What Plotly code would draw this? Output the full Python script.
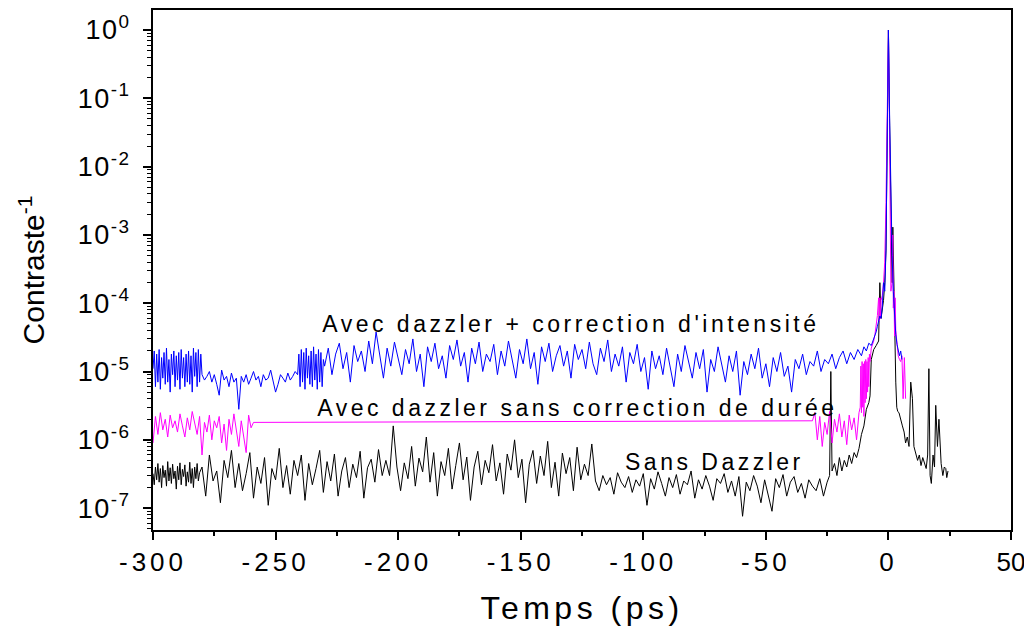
import numpy as np
import plotly.graph_objects as go

# ---------------- data ----------------
# Blue : "Avec dazzler + correction d'intensité"
blue_dense1 = [1.1e-5, 2.0e-5, 6e-6, 1.8e-5, 7e-6, 2.1e-5, 5.5e-6, 1.6e-5, 8e-6, 1.9e-5,
               6.5e-6, 2.2e-5, 7e-6, 1.5e-5, 5e-6, 1.8e-5, 9e-6, 2.0e-5, 6e-6, 1.7e-5,
               7.5e-6, 1.9e-5, 5.5e-6, 2.1e-5, 8e-6, 1.6e-5, 6e-6, 1.8e-5, 7e-6, 2.0e-5,
               6.5e-6, 1.7e-5, 5e-6, 2.2e-5, 8.5e-6, 1.9e-5, 6e-6, 2.1e-5, 7e-6, 1.8e-5]   # -300 .. -280.5, every 0.5 ps
blue_calm = [9e-6, 7.5e-6, 8.5e-6, 1.0e-5, 7e-6, 9e-6, 6.5e-6, 4.5e-6, 1.05e-5, 7.5e-6,
             8.5e-6, 6e-6, 9.5e-6, 7e-6, 8e-6, 2.8e-6, 8.5e-6, 7e-6, 9e-6, 6.5e-6,
             8e-6, 1.0e-5, 7.5e-6, 8.5e-6, 6e-6, 9e-6, 7.5e-6, 8e-6, 1.05e-5, 7e-6,
             5e-6, 6.5e-6, 9e-6, 8e-6, 7e-6, 9.5e-6, 7.5e-6, 8.5e-6, 1.0e-5, 9e-6]        # -280 .. -241, every 1 ps
blue_dense2 = [1.8e-5, 6e-6, 2.1e-5, 7e-6, 1.9e-5, 5.5e-6, 2.2e-5, 8e-6, 1.7e-5, 6.5e-6,
               2.0e-5, 6e-6, 2.3e-5, 7.5e-6, 1.8e-5, 5.5e-6, 2.1e-5, 7e-6, 1.9e-5, 6e-6, 1.5e-5]  # -240.5 .. -230.5, every 0.5 ps
blue_main = [1.2e-5, 2.2e-5, 9e-6, 1.8e-5, 2.6e-5, 1.1e-5, 1.9e-5, 7e-6, 2.4e-5, 1.4e-5,
             2.0e-5, 1.0e-5, 2.8e-5, 1.3e-5, 3.8e-5, 1.6e-5, 8e-6, 2.2e-5, 1.2e-5, 2.7e-5,
             1.5e-5, 9e-6, 2.1e-5, 1.3e-5, 3.0e-5, 1.0e-5, 1.8e-5, 6e-6, 2.3e-5, 1.4e-5,
             2.6e-5, 1.1e-5, 1.7e-5, 8e-6, 2.4e-5, 1.5e-5, 2.9e-5, 1.2e-5, 1.9e-5, 7e-6,
             2.2e-5, 1.3e-5, 2.7e-5, 1.0e-5, 1.8e-5, 1.4e-5, 2.5e-5, 9e-6, 2.0e-5, 1.2e-5,
             2.8e-5, 1.5e-5, 8e-6, 2.1e-5, 1.3e-5, 3.0e-5, 1.1e-5, 1.9e-5, 6.5e-6, 2.3e-5,
             1.4e-5, 2.6e-5, 1.0e-5, 1.7e-5, 2.4e-5, 1.2e-5, 2.0e-5, 8e-6, 2.5e-5, 1.5e-5,
             2.1e-5, 1.1e-5, 2.7e-5, 1.3e-5, 9e-6, 2.2e-5, 1.4e-5, 2.9e-5, 1.0e-5, 1.8e-5,
             1.2e-5, 2.3e-5, 7e-6, 1.9e-5, 1.3e-5, 2.5e-5, 1.0e-5, 1.6e-5, 5.5e-6, 2.0e-5,
             1.1e-5, 1.7e-5, 9e-6, 2.2e-5, 1.2e-5, 6e-6, 1.8e-5, 1.0e-5, 2.4e-5, 1.3e-5,
             8e-6, 1.9e-5, 1.1e-5, 2.1e-5, 5e-6, 1.5e-5, 1.0e-5, 2.3e-5, 1.2e-5, 7e-6,
             1.7e-5, 1.0e-5, 2.0e-5, 4.5e-6, 1.4e-5, 9e-6, 1.8e-5, 1.1e-5, 2.2e-5, 8e-6,
             1.3e-5, 6e-6, 1.6e-5, 1.0e-5, 1.9e-5, 8.5e-6, 1.2e-5, 5e-6, 1.5e-5, 1.1e-5,
             1.8e-5, 9e-6, 1.4e-5, 1.2e-5, 2.0e-5, 1.0e-5, 1.5e-5]                        # -230 .. -26, every 1.5 ps
blue_peak_t = [-24.5, -23, -21.5, -20, -18.5, -17, -15.5, -14, -12.5, -11, -10, -9, -8, -7, -6, -5,
               -4.5, -4, -3.5, -3, -2.5, -2, -1.5, -1, -0.5, 0, 0.5, 1, 1.5, 2, 2.5, 3, 3.5, 4,
               4.5, 5, 5.5]
blue_peak = [1.3e-5, 1.8e-5, 1.1e-5, 1.6e-5, 2.0e-5, 1.3e-5, 1.9e-5, 1.5e-5, 2.1e-5, 1.7e-5,
             2.3e-5, 2.0e-5, 2.6e-5, 2.4e-5, 3.0e-5, 3.8e-5, 4.6e-5, 5.5e-5, 6.5e-5, 6e-5,
             9e-5, 2e-4, 1.5e-4, 6e-4, 3e-2, 1.0, 5e-2, 3e-3, 5e-4, 1.5e-4, 6e-5, 3.5e-5,
             2.5e-5, 2e-5, 1.7e-5, 2e-5, 1.5e-5]

# Magenta : "Avec dazzler sans correction de durée"
mag_early = [9e-7, 2.2e-6, 1.2e-6, 2.5e-6, 1.4e-6, 2.0e-6, 1.1e-6, 2.3e-6, 1.5e-6, 1.9e-6,
             1.3e-6, 2.4e-6, 1.6e-6, 1.1e-6, 2.1e-6, 1.4e-6, 2.6e-6, 1.7e-6, 1.2e-6, 2.2e-6,
             6e-7, 1.8e-6, 1.3e-6, 2.3e-6, 1.0e-6, 1.9e-6, 1.5e-6, 2.2e-6, 9e-7, 1.7e-6,
             7e-7, 2.0e-6, 1.2e-6, 2.4e-6, 1.4e-6, 8e-7, 1.9e-6, 1.1e-6, 6.5e-7, 2.3e-6,
             1.5e-6, 1.8e-6]                                                             # -300 .. -259, every 1 ps
mag_late = [1.9e-6, 2.5e-6, 1.0e-6, 2.2e-6, 8e-7, 1.8e-6, 1.2e-6, 2.6e-6, 9e-7, 2.0e-6,
            1.3e-6, 2.4e-6, 1.1e-6, 1.9e-6, 8.5e-7, 2.3e-6, 1.4e-6, 2.1e-6, 1.0e-6, 2.5e-6]  # -31 .. -12, every 1 ps
mag_dense = [3e-6, 1.2e-5, 2.5e-6, 1.4e-5, 3e-6, 1.3e-5, 2.2e-6, 1.4e-5, 3.5e-6, 1.5e-5,
             4e-6, 1.4e-5, 5e-6, 1.6e-5, 6e-6, 1.8e-5, 1.4e-5]                          # -11.5 .. -7.5, every 0.25 ps
mag_peak_t = [-7, -6.5, -6, -5.5, -5, -4.5, -4, -3.75, -3.5, -3.25, -3, -2.5, -2, -1.5, -1, -0.5,
              0, 0.5, 1, 1.5, 1.75, 2, 2.25, 2.5, 2.75, 3, 3.5, 4, 4.5, 5, 5.5, 6, 6.5, 7]
mag_peak = [2.2e-5, 2.5e-5, 2.8e-5, 3.5e-5, 4.5e-5, 6.6e-5, 1.2e-4, 5.5e-5, 1.2e-4, 6e-5,
            1.1e-4, 1.3e-4, 2e-4, 4e-4, 3e-3, 8e-2, 1.0, 2e-2, 1.5e-4, 2e-4,
            1e-3, 8.5e-5, 1.5e-4, 3.3e-5, 1.2e-4, 4e-5, 2.5e-5, 1.7e-5, 1.5e-5, 1.4e-5,
            1.7e-5, 4e-6, 1.6e-5, 4e-6]

# Black : "Sans Dazzler"
blk_dense = [3.2e-7, 2.2e-7, 4.0e-7, 2.6e-7, 4.5e-7, 2.4e-7, 3.8e-7, 2.0e-7, 4.2e-7, 2.8e-7,
             3.6e-7, 2.1e-7, 4.8e-7, 2.5e-7, 3.9e-7, 2.3e-7, 4.4e-7, 2.7e-7, 3.5e-7, 1.9e-7,
             4.1e-7, 2.6e-7, 4.6e-7, 2.2e-7, 3.7e-7, 2.9e-7, 4.3e-7, 2.1e-7, 3.4e-7, 2.4e-7,
             4.7e-7, 2.3e-7, 3.8e-7, 2.0e-7, 4.0e-7, 2.7e-7, 4.5e-7, 2.5e-7, 3.3e-7]      # -300 .. -281, every 0.5 ps
blk_noisy = [4e-7, 1.5e-7, 6e-7, 2.5e-7, 3.5e-7, 1.2e-7, 5e-7, 2.8e-7, 7e-7, 2e-7,
             4.5e-7, 1.8e-7, 3.2e-7, 6.5e-7, 1.4e-7, 4e-7, 2.3e-7, 5.5e-7, 1.1e-7, 3.8e-7,
             2.6e-7, 7.5e-7, 2e-7, 4.2e-7, 1.6e-7, 5e-7, 3e-7, 6e-7, 1.3e-7, 4.5e-7,
             2.2e-7, 3.8e-7, 7e-7, 1.7e-7, 4.8e-7, 2.5e-7, 6.2e-7, 1.5e-7, 3.5e-7, 5.5e-7,
             2e-7, 4.4e-7, 2.8e-7, 6.8e-7, 1.4e-7, 3.9e-7, 5.2e-7, 2.4e-7, 7.2e-7, 3e-7,
             5e-7, 3e-7, 1.6e-6, 4e-7, 1.8e-7, 4.6e-7, 2.7e-7, 8e-7, 2.1e-7, 5.4e-7,
             3.4e-7, 1.1e-6, 2.4e-7, 6.5e-7, 1.5e-7, 4.8e-7, 3e-7, 7.5e-7, 1.9e-7, 4.2e-7,
             9e-7, 2.6e-7, 5.6e-7, 1.3e-7, 4e-7, 6.8e-7, 2.2e-7, 5e-7, 3.3e-7, 8.5e-7,
             2.5e-7, 4.6e-7, 1.6e-7, 6.2e-7, 3.6e-7, 1.0e-6, 2.8e-7, 5.2e-7, 1.2e-7, 4.4e-7,
             7e-7, 2.3e-7, 5.8e-7, 3e-7, 9.5e-7, 2e-7, 4.7e-7, 1.5e-7, 6.4e-7, 3.2e-7,
             5.5e-7, 1.8e-7, 7.8e-7, 2.6e-7, 4.4e-7, 3e-7, 8.7e-7]                      # -280 .. -121, every 1.5 ps
blk_calm = [2.5e-7, 1.8e-7, 3e-7, 2.2e-7, 2.8e-7, 1.6e-7, 3.3e-7, 2.4e-7, 2e-7, 2.9e-7,
            1.7e-7, 2.6e-7, 2.1e-7, 3.2e-7, 1.1e-7, 2.7e-7, 1.9e-7, 3.4e-7, 2.3e-7, 1.5e-7,
            2.8e-7, 2e-7, 3.1e-7, 1.6e-7, 2.5e-7, 2.2e-7, 3.5e-7, 1.4e-7, 2.6e-7, 1.9e-7,
            3e-7, 2.1e-7, 1.3e-7, 2.7e-7, 2.3e-7, 3.2e-7, 1.7e-7, 2.5e-7, 1.5e-7, 2.9e-7,
            7.6e-8, 2.4e-7, 1.8e-7, 3e-7, 2.1e-7, 1.2e-7, 2.6e-7, 1.6e-7, 9e-8, 2.7e-7,
            2e-7, 3.1e-7, 1.5e-7, 2.4e-7, 2.9e-7, 1.7e-7, 2.3e-7, 1.4e-7, 2.6e-7, 2.1e-7,
            1.8e-7]                                                                      # -119.5 .. -29.5, every 1.5 ps
blk_peak_t = [-28, -26.5, -25, -24, -23.5, -23, -22, -21, -20, -19,
              -18, -17, -16, -15, -14, -13, -12, -11, -10, -9,
              -8, -7.5, -7, -6, -5, -4, -3.5, -3, -2, -1.5,
              -1, -0.5, 0, 0.5, 1, 1.5, 1.8, 2.2, 2.6, 3,
              3.4, 3.8, 4.3, 5, 5.7, 6.4, 7, 7.7, 8.4, 9.1,
              9.8, 10.4, 11.2, 11.9, 12.6, 13.3, 14, 14.7, 15.4, 16,
              16.5, 17, 17.5, 18.2, 18.8, 19.3, 20, 20.6, 21.5, 22.2,
              22.8, 23.4, 23.8, 24.3]
blk_peak = [2.7e-7, 1.5e-7, 2.4e-7, 3e-7, 1e-5, 3.5e-7, 4.5e-7, 3e-7, 5.5e-7, 3.5e-7,
            5e-7, 4e-7, 6e-7, 4.5e-7, 6.5e-7, 5.5e-7, 7.5e-7, 1.2e-6, 1.6e-6, 2.8e-6,
            3.5e-6, 4.4e-6, 1.5e-5, 2.1e-5, 2.4e-5, 2.8e-5, 2e-4, 6e-5, 1.1e-4, 2e-4,
            6e-4, 4e-2, 1.0, 4e-2, 3e-3, 2e-4, 1.3e-3, 1.5e-4, 5e-5, 7e-6,
            3e-6, 2.6e-6, 2.5e-6, 1.9e-6, 1.6e-6, 1.3e-6, 9e-7, 1.1e-6, 8e-7, 7e-6,
            4e-6, 8e-7, 6.5e-7, 5e-7, 6e-7, 4.2e-7, 5.5e-7, 4.5e-7, 3.8e-7, 6e-7,
            1.1e-5, 3e-7, 2.3e-7, 6e-7, 4e-7, 3.2e-6, 8e-7, 2e-6, 4.5e-7, 3e-7,
            4e-7, 3.8e-7, 2.8e-7, 3.5e-7]

labels = ["Avec dazzler + correction d'intensité",
          "Avec dazzler sans correction de durée",
          "Sans Dazzler"]
x_ticks = [-300, -250, -200, -150, -100, -50, 0, 50]
y_exponents = [0, -1, -2, -3, -4, -5, -6, -7]


def grid(start, step, values):
    """Sampling times of a uniformly sampled stretch of the record."""
    return list(np.round(start + step * np.arange(len(values)), 3))


blue_t = (grid(-300, 0.5, blue_dense1) + grid(-280, 1, blue_calm) + grid(-240.5, 0.5, blue_dense2)
          + grid(-230, 1.5, blue_main) + blue_peak_t)
blue_y = blue_dense1 + blue_calm + blue_dense2 + blue_main + blue_peak

mag_t = grid(-300, 1, mag_early) + grid(-31, 1, mag_late) + grid(-11.5, 0.25, mag_dense) + mag_peak_t
mag_y = mag_early + mag_late + mag_dense + mag_peak

blk_t = grid(-300, 0.5, blk_dense) + grid(-280, 1.5, blk_noisy) + grid(-119.5, 1.5, blk_calm) + blk_peak_t
blk_y = blk_dense + blk_noisy + blk_calm + blk_peak

FONT = "Liberation Sans, Arial, Helvetica, sans-serif"
NARROW = "Liberation Sans Narrow, Arial Narrow, Liberation Sans, Arial, sans-serif"

fig = go.Figure()
fig.add_trace(go.Scatter(x=blk_t, y=blk_y, mode="lines", name=labels[2],
                         line=dict(color="#000000", width=1)))
fig.add_trace(go.Scatter(x=mag_t, y=mag_y, mode="lines", name=labels[1],
                         line=dict(color="#FF00FF", width=1)))
fig.add_trace(go.Scatter(x=blue_t, y=blue_y, mode="lines", name=labels[0],
                         line=dict(color="#0000FF", width=1)))

# curve labels (y in log10 units for a log axis), centred on the reference positions
fig.add_annotation(x=-129.5, y=-4.31, xref="x", yref="y", text=labels[0], showarrow=False,
                   xanchor="center", yanchor="middle", font=dict(family=FONT, size=23, color="black"))
fig.add_annotation(x=-127, y=-5.53, xref="x", yref="y", text=labels[1], showarrow=False,
                   xanchor="center", yanchor="middle", font=dict(family=FONT, size=23, color="black"))
fig.add_annotation(x=-71, y=-6.32, xref="x", yref="y", text=labels[2], showarrow=False,
                   xanchor="center", yanchor="middle", font=dict(family=FONT, size=23, color="black"))

minor_y = [m * 10.0 ** e for e in range(-8, 1) for m in range(2, 10)]

fig.update_layout(
    width=1024, height=626,
    margin=dict(l=153, r=13, t=10, b=96),
    paper_bgcolor="white", plot_bgcolor="white",
    showlegend=False,
    font=dict(family=FONT, size=23, color="black"),
    xaxis=dict(
        range=[-300, 50], tickvals=x_ticks, ticktext=[str(v) for v in x_ticks],
        ticks="outside", ticklen=8, tickwidth=2, tickcolor="black",
        showline=True, linewidth=2, linecolor="black", mirror=True,
        showgrid=False, zeroline=False, ticklabeloverflow="allow",
        tickfont=dict(family=NARROW, size=26, color="black"),
        minor=dict(dtick=25, ticks="outside", ticklen=4, tickwidth=1.5, tickcolor="black", showgrid=False),
        title=dict(text="Temps (ps)", font=dict(family=FONT, size=32, color="black"), standoff=20),
        automargin=False,
    ),
    yaxis=dict(
        type="log", range=[-7.32, 0.293],
        tickvals=[10.0 ** e for e in y_exponents],
        ticktext=["10<sup>%d</sup>" % e for e in y_exponents],
        ticks="outside", ticklen=8, tickwidth=2, tickcolor="black",
        showline=True, linewidth=2, linecolor="black", mirror=True,
        showgrid=False, zeroline=False, ticklabeloverflow="allow", ticklabelstandoff=7,
        tickfont=dict(family=FONT, size=27, color="black"),
        minor=dict(tickvals=minor_y, ticks="outside", ticklen=4, tickwidth=1, tickcolor="black", showgrid=False),
        title=dict(text="Contraste<sup>-1</sup>", font=dict(family=FONT, size=30, color="black"), standoff=30),
        automargin=False,
    ),
)

post = """
document.body.style.margin = '0px';
document.body.style.padding = '0px';
var gd = document.getElementById('{plot_id}');
function spacing() {
  gd.querySelectorAll('text.annotation-text').forEach(function(t){ t.style.letterSpacing = '3.5px'; });
  var xt = gd.querySelectorAll('g.xtick text');
  xt.forEach(function(t, i){ t.style.letterSpacing = (i === xt.length - 1) ? '0px' : '4px'; });
  gd.querySelectorAll('text.xtitle').forEach(function(t){ t.style.letterSpacing = '4.5px'; });
  gd.querySelectorAll('g.ytick text').forEach(function(t){ t.style.letterSpacing = '1.5px'; });
}
spacing();
setTimeout(spacing, 50);
if (gd.on) { gd.on('plotly_afterplot', spacing); }
"""

fig.write_html("out.html", post_script=post, config={"displayModeBar": False})
